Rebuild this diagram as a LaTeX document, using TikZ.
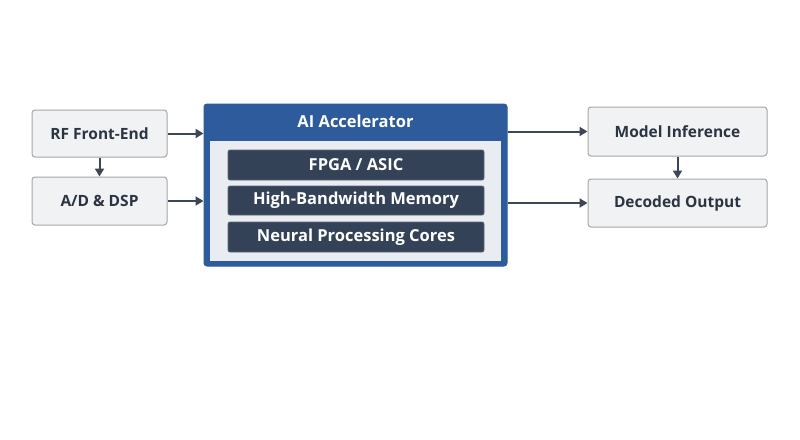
\documentclass[tikz,border=0pt]{standalone}
\usepackage{fontspec}
\setmainfont{Open Sans}
\usetikzlibrary{arrows.meta}
\definecolor{boxfill}{HTML}{F1F2F3}
\definecolor{boxline}{HTML}{A3A6AA}
\definecolor{accblue}{HTML}{2D5B9B}
\definecolor{innerfill}{HTML}{E9EDF2}
\definecolor{barfill}{HTML}{344257}
\definecolor{barline}{HTML}{5A6677}
\definecolor{arrowc}{HTML}{3B4656}
\definecolor{txt}{HTML}{2A3442}
\begin{document}
\begin{tikzpicture}[x=1pt,y=-1pt,
  lbox/.style={draw=boxline,fill=boxfill,rounded corners=3pt,line width=1pt,minimum width=135pt,text=txt,font=\fontsize{15.5}{18}\selectfont\bfseries},
  rbox/.style={lbox,minimum width=179pt},
  bar/.style={draw=barline,fill=barfill,rounded corners=2pt,line width=0.8pt,minimum width=256pt,minimum height=30pt,text=white,font=\fontsize{16.5}{19}\selectfont\bfseries},
  arr/.style={draw=arrowc,line width=2pt,-{Triangle[length=8pt,width=9pt]}}]
\useasboundingbox[fill=white] (0,0) rectangle (800,439);
% left boxes
\node[lbox,minimum height=47pt] (rf) at (99.5,133.5) {RF Front-End};
\node[lbox,minimum height=48pt] (ad) at (99.5,201) {A/D \& DSP};
% accelerator
\node[draw=accblue,fill=accblue,rounded corners=3pt,line width=1pt,minimum width=303pt,minimum height=162pt] (acc) at (355.5,185) {};
\node[fill=innerfill,minimum width=291pt,minimum height=120pt,inner sep=0pt] (inner) at (355.5,200.5) {};
\node[text=white,font=\fontsize{16.5}{19}\selectfont\bfseries] (title) at (355.5,121.5) {AI Accelerator};
\node[bar] (fpga) at (356,165) {FPGA / ASIC};
\node[bar,minimum height=29pt] (hbm) at (356,200.5) {High-Bandwidth Memory};
\node[bar] (npc) at (356,237) {Neural Processing Cores};
% right boxes
\node[rbox,minimum height=49pt] (mi) at (677.5,131.5) {Model Inference};
\node[rbox,minimum height=48pt] (dec) at (677.5,203) {Decoded Output};
% arrows
\draw[arr] (rf.east) -- (rf.east -| acc.west);
\draw[arr] (ad.east) -- (ad.east -| acc.west);
\draw[arr] (rf.south) -- (ad.north);
\coordinate (o1) at (acc.east |- mi.west);
\coordinate (o2) at (acc.east |- dec.west);
\draw[arr] (o1) -- (mi.west);
\draw[arr] (o2) -- (dec.west);
\draw[arr] (mi.south) -- (dec.north);
\end{tikzpicture}
\end{document}
